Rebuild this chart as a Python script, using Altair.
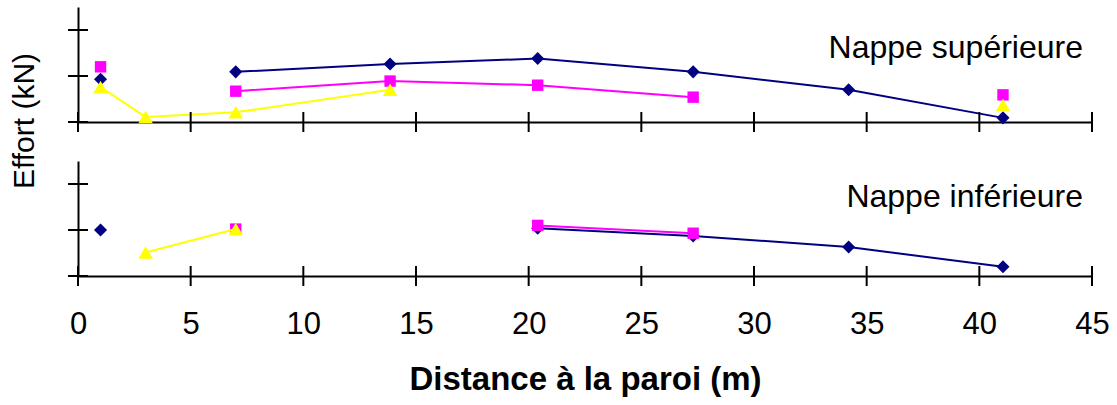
import altair as alt
import pandas as pd

# ---------------- data ----------------
# Upper layer ("Nappe supérieure")
sup_blue_x = [1, 7, 13.85, 20.4, 27.3, 34.2, 41.05]
sup_blue_y = [0.93, 1.09, 1.26, 1.38, 1.09, 0.70, 0.09]
sup_blue_seg = [0, 1, 1, 1, 1, 1, 1]

sup_mag_x = [1, 7, 13.85, 20.4, 27.3, 41.05]
sup_mag_y = [1.20, 0.67, 0.89, 0.80, 0.54, 0.59]
sup_mag_seg = [0, 1, 1, 1, 1, 2]

sup_yel_x = [1, 3, 7, 13.85, 41.05]
sup_yel_y = [0.76, 0.11, 0.21, 0.70, 0.37]
sup_yel_seg = [0, 0, 0, 0, 1]

# Lower layer ("Nappe inférieure")
inf_blue_x = [1, 20.4, 27.3, 34.2, 41.05]
inf_blue_y = [1.00, 1.04, 0.87, 0.63, 0.20]
inf_blue_seg = [0, 1, 1, 1, 1]

inf_mag_x = [7, 20.4, 27.3]
inf_mag_y = [1.02, 1.10, 0.93]
inf_mag_seg = [0, 1, 1]

inf_yel_x = [3, 7]
inf_yel_y = [0.51, 1.02]
inf_yel_seg = [0, 0]

x_tick_values = [0, 5, 10, 15, 20, 25, 30, 35, 40, 45]
y_tick_values = [0, 1, 2]

panel_labels = {"sup": "Nappe supérieure", "inf": "Nappe inférieure"}
x_title = "Distance à la paroi (m)"
y_title = "Effort (kN)"

# ---------------- build table ----------------
rows = []
def add(panel, series, xs, ys, segs):
    for x, y, s in zip(xs, ys, segs):
        rows.append({"panel": panel, "series": series, "seg": s, "x": x, "y": y})

add("sup", "blue", sup_blue_x, sup_blue_y, sup_blue_seg)
add("sup", "mag", sup_mag_x, sup_mag_y, sup_mag_seg)
add("sup", "yel", sup_yel_x, sup_yel_y, sup_yel_seg)
add("inf", "blue", inf_blue_x, inf_blue_y, inf_blue_seg)
add("inf", "mag", inf_mag_x, inf_mag_y, inf_mag_seg)
add("inf", "yel", inf_yel_x, inf_yel_y, inf_yel_seg)
df = pd.DataFrame(rows)

xt = pd.DataFrame({"t": x_tick_values})
yt = pd.DataFrame({"t": y_tick_values})

FONT = "Liberation Sans"
W, H = 1014, 115

styles = [
    ("blue", "#000080", "diamond", 170),
    ("mag", "#FF00FF", "square", 130),
    ("yel", "#FFFF00", "triangle-up", 210),
]

xscale = alt.Scale(domain=[0, 45], nice=False, zero=False)
yscale = alt.Scale(domain=[0, 2.5], nice=False, zero=False)


def x_axis(show_labels):
    if show_labels:
        return alt.Axis(values=x_tick_values, ticks=False, grid=False, domain=True,
                        domainColor="black", domainWidth=2, labels=True,
                        labelFlush=False, labelOverlap=False,
                        labelFont=FONT, labelFontSize=31, labelColor="black",
                        labelPadding=33, title=x_title, titleFont=FONT,
                        titleFontSize=33, titleFontWeight="bold", titleColor="black",
                        titlePadding=24)
    return alt.Axis(values=x_tick_values, ticks=False, grid=False, domain=True,
                    domainColor="black", domainWidth=2, labels=False, title=None)


y_axis = alt.Axis(ticks=False, grid=False, domain=True, domainColor="black",
                  domainWidth=2, labels=False, title=None)


def panel_chart(panel, show_labels, label_y, with_ytitle):
    xa = x_axis(show_labels)
    layers = []
    base = alt.Chart(df).transform_filter(alt.datum.panel == panel)
    for s, col, shape, size in styles:
        b = base.transform_filter(alt.datum.series == s)
        enc = dict(x=alt.X("x:Q", scale=xscale, axis=xa),
                   y=alt.Y("y:Q", scale=yscale, axis=y_axis))
        layers.append(b.mark_line(color=col, strokeWidth=2).encode(detail="seg:N", **enc))
        layers.append(b.mark_point(shape=shape, filled=True, color=col, size=size,
                                   opacity=1).encode(**enc))
    # crossing tick marks
    layers.append(alt.Chart(xt).mark_rule(color="black", strokeWidth=2).encode(
        x=alt.X("t:Q", scale=xscale, axis=xa),
        y=alt.value(H - 10), y2=alt.value(H + 10)))
    layers.append(alt.Chart(yt).mark_rule(color="black", strokeWidth=2).encode(
        y=alt.Y("t:Q", scale=yscale, axis=y_axis),
        x=alt.value(-10), x2=alt.value(10)))
    lab = pd.DataFrame({"label": [panel_labels[panel]]})
    layers.append(alt.Chart(lab).mark_text(font=FONT, fontSize=32, color="black",
                                           align="right", baseline="alphabetic").encode(
        text="label:N", x=alt.value(1005), y=alt.value(label_y)))
    if with_ytitle:
        yl = pd.DataFrame({"label": [y_title]})
        layers.append(alt.Chart(yl).mark_text(font=FONT, fontSize=30, color="black",
                                              angle=270, align="center",
                                              baseline="middle").encode(
            text="label:N", x=alt.value(-53), y=alt.value(114)))
    return alt.layer(*layers).properties(width=W, height=H)


top = panel_chart("sup", False, 51, True)
bottom = panel_chart("inf", True, 46, False)

chart = alt.vconcat(top, bottom, spacing=39, bounds="flush").properties(
    padding={"left": 10, "top": 7, "right": 5, "bottom": 5}
).configure_view(stroke=None)

chart.save("out.html", embed_options={"renderer": "svg", "actions": False})
